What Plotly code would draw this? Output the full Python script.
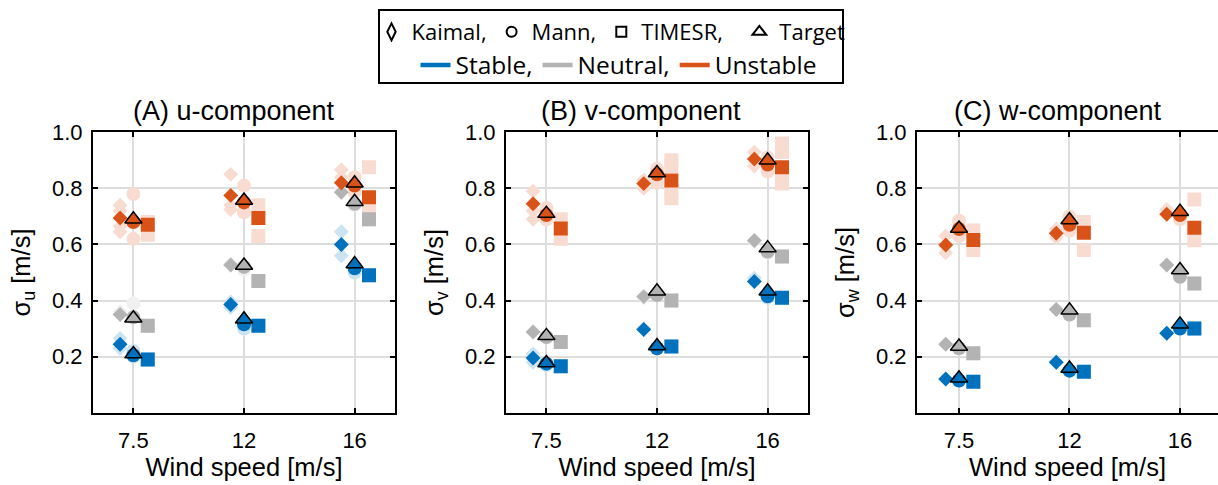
import plotly.graph_objects as go

# ---------------- data ----------------
WIND_LABELS = ["7.5", "12", "16"]
WIND_POS = [1, 2, 3]
STABILITIES = ["Stable", "Neutral", "Unstable"]
Y_TICKS = [0.2, 0.4, 0.6, 0.8, 1.0]
Y_TICK_TEXT = ["0.2", "0.4", "0.6", "0.8", "1.0"]

# mean std. dev. per stability, per wind speed [7.5, 12, 16]
u_kaimal = {"Stable": [0.244, 0.386, 0.600], "Neutral": [0.350, 0.527, 0.786], "Unstable": [0.694, 0.775, 0.820]}
u_mann = {"Stable": [0.205, 0.315, 0.515], "Neutral": [0.340, 0.520, 0.745], "Unstable": [0.680, 0.750, 0.810]}
u_timesr = {"Stable": [0.190, 0.310, 0.490], "Neutral": [0.310, 0.470, 0.690], "Unstable": [0.670, 0.694, 0.768]}
u_target = {"Stable": [0.209, 0.333, 0.530], "Neutral": [0.337, 0.525, 0.752], "Unstable": [0.690, 0.757, 0.818]}

v_kaimal = {"Stable": [0.195, 0.297, 0.468], "Neutral": [0.288, 0.414, 0.614], "Unstable": [0.745, 0.817, 0.905]}
v_mann = {"Stable": [0.175, 0.230, 0.415], "Neutral": [0.270, 0.420, 0.575], "Unstable": [0.705, 0.850, 0.885]}
v_timesr = {"Stable": [0.166, 0.236, 0.410], "Neutral": [0.252, 0.400, 0.557], "Unstable": [0.657, 0.828, 0.875]}
v_target = {"Stable": [0.177, 0.238, 0.433], "Neutral": [0.274, 0.433, 0.587], "Unstable": [0.710, 0.855, 0.900]}

w_kaimal = {"Stable": [0.120, 0.180, 0.283], "Neutral": [0.244, 0.368, 0.527], "Unstable": [0.598, 0.640, 0.708]}
w_mann = {"Stable": [0.115, 0.150, 0.300], "Neutral": [0.230, 0.350, 0.485], "Unstable": [0.655, 0.670, 0.705]}
w_timesr = {"Stable": [0.110, 0.146, 0.300], "Neutral": [0.212, 0.330, 0.461], "Unstable": [0.616, 0.642, 0.660]}
w_target = {"Stable": [0.123, 0.158, 0.315], "Neutral": [0.236, 0.365, 0.509], "Unstable": [0.657, 0.687, 0.717]}

# individual realisations (light markers), per wind speed
u_kaimal_runs = {"Stable": [[0.265, 0.23], [0.395, 0.375], [0.645, 0.56]], "Neutral": [[0.36], [0.53], [0.80]],
                 "Unstable": [[0.74, 0.72, 0.665, 0.645], [0.85, 0.74, 0.725], [0.866, 0.84]]}
u_mann_runs = {"Stable": [[0.20, 0.22], [0.30], [0.50]], "Neutral": [[0.39], [0.51], [0.74]],
               "Unstable": [[0.78, 0.62], [0.81, 0.715], [0.84, 0.786]]}
u_timesr_runs = {"Stable": [[0.19], [0.31], [0.49]], "Neutral": [[0.31], [0.47], [0.69]],
                 "Unstable": [[0.635, 0.68], [0.74, 0.63], [0.875, 0.73]]}

v_kaimal_runs = {"Stable": [[0.21, 0.18], [0.30], [0.48]], "Neutral": [[0.29], [0.41], [0.61]],
                 "Unstable": [[0.79, 0.72, 0.69], [0.80, 0.83], [0.93, 0.88]]}
v_mann_runs = {"Stable": [[0.17], [0.23], [0.41]], "Neutral": [[0.27], [0.42], [0.57]],
               "Unstable": [[0.73, 0.69], [0.87, 0.82], [0.86, 0.91]]}
v_timesr_runs = {"Stable": [[0.166], [0.236], [0.41]], "Neutral": [[0.252], [0.40], [0.557]],
                 "Unstable": [[0.69, 0.62], [0.90, 0.88, 0.79, 0.765], [0.96, 0.93, 0.84, 0.817]]}

w_kaimal_runs = {"Stable": [[0.12], [0.18], [0.283]], "Neutral": [[0.244], [0.368], [0.527]],
                 "Unstable": [[0.63, 0.57], [0.655, 0.625], [0.725]]}
w_mann_runs = {"Stable": [[0.115], [0.15], [0.30]], "Neutral": [[0.23], [0.35], [0.485]],
               "Unstable": [[0.685, 0.63], [0.70, 0.65], [0.69]]}
w_timesr_runs = {"Stable": [[0.11], [0.146], [0.30]], "Neutral": [[0.212], [0.33], [0.461]],
                 "Unstable": [[0.65, 0.58], [0.68, 0.58], [0.76, 0.615]]}

PANEL_TITLES = ["(A) u-component", "(B) v-component", "(C) w-component"]
Y_TITLES = ["σ<sub>u</sub> [m/s]", "σ<sub>v</sub> [m/s]", "σ<sub>w</sub> [m/s]"]
X_TITLE = "Wind speed [m/s]"
MODEL_NAMES = ["Kaimal", "Mann", "TIMESR"]

# ---------------- style ----------------
W, H = 1218, 485
DARK = {"Stable": "#0072BD", "Neutral": "#B3B3B3", "Unstable": "#D95319"}
LIGHT = {"Stable": "#CCE3F2", "Neutral": "#F0F0F0", "Unstable": "#F8DCD1"}
OFFSET = {"Kaimal": -0.12, "Mann": 0.0, "TIMESR": 0.13}
SYMBOL = {"Kaimal": "diamond", "Mann": "circle", "TIMESR": "square"}
SIZE = {"Kaimal": 11.5, "Mann": 14, "TIMESR": 14}
FONT = "Liberation Sans"
LEG_FONT = "Open Sans"

panels = [
    dict(mean={"Kaimal": u_kaimal, "Mann": u_mann, "TIMESR": u_timesr}, target=u_target,
         runs={"Kaimal": u_kaimal_runs, "Mann": u_mann_runs, "TIMESR": u_timesr_runs}),
    dict(mean={"Kaimal": v_kaimal, "Mann": v_mann, "TIMESR": v_timesr}, target=v_target,
         runs={"Kaimal": v_kaimal_runs, "Mann": v_mann_runs, "TIMESR": v_timesr_runs}),
    dict(mean={"Kaimal": w_kaimal, "Mann": w_mann, "TIMESR": w_timesr}, target=w_target,
         runs={"Kaimal": w_kaimal_runs, "Mann": w_mann_runs, "TIMESR": w_timesr_runs}),
]

x_domains = [(93 / W, 395 / W), (506 / W, 808 / W), (917 / W, 1.0)]
x_ranges = [(0.635, 3.365), (0.635, 3.365), (0.62, 3.344)]
y_domain = ((H - 412.7) / H, (H - 132.3) / H)
title_x = [234, 641, 1058]

fig = go.Figure()

for i, p in enumerate(panels):
    sfx = "" if i == 0 else str(i + 1)
    xa, ya = "x" + sfx, "y" + sfx
    # light markers (individual runs)
    for m in MODEL_NAMES:
        for s in STABILITIES:
            xs, ys = [], []
            for k, vals in enumerate(p["runs"][m][s]):
                for v in vals:
                    xs.append(WIND_POS[k] + OFFSET[m])
                    ys.append(v)
            fig.add_trace(go.Scatter(x=xs, y=ys, mode="markers", xaxis=xa, yaxis=ya, showlegend=False,
                                     marker=dict(symbol=SYMBOL[m], size=SIZE[m], color=LIGHT[s],
                                                 line=dict(width=0)), hoverinfo="skip"))
    # dark markers (means)
    for m in MODEL_NAMES:
        for s in STABILITIES:
            fig.add_trace(go.Scatter(x=[xp + OFFSET[m] for xp in WIND_POS], y=p["mean"][m][s], mode="markers",
                                     xaxis=xa, yaxis=ya, showlegend=False,
                                     marker=dict(symbol=SYMBOL[m], size=SIZE[m], color=DARK[s], line=dict(width=0))))
    # target
    for s in STABILITIES:
        fig.add_trace(go.Scatter(x=WIND_POS, y=p["target"][s], mode="markers", xaxis=xa, yaxis=ya, showlegend=False,
                                 marker=dict(symbol="triangle-up", size=15, color=DARK[s],
                                             line=dict(width=1.5, color="black"))))

    axis_common = dict(showline=True, linecolor="black", linewidth=2, ticks="inside", ticklen=5, tickwidth=1.5,
                       tickcolor="black", showgrid=True, gridcolor="#DDDDDD", gridwidth=1.5, zeroline=False,
                       tickfont=dict(family=FONT, size=22, color="black"))
    fig.update_layout({
        "xaxis" + sfx: dict(axis_common, domain=x_domains[i], range=x_ranges[i], anchor=ya,
                            tickvals=WIND_POS, ticktext=WIND_LABELS, mirror="ticks", ticklabelstandoff=7,
                            title=dict(text=X_TITLE, font=dict(family=FONT, size=25.5, color="black"), standoff=4)),
        "yaxis" + sfx: dict(axis_common, domain=y_domain, range=[0, 1], anchor=xa,
                            tickvals=Y_TICKS, ticktext=Y_TICK_TEXT, mirror=("ticks" if i < 2 else False),
                            ticklabelstandoff=4,
                            title=dict(text=Y_TITLES[i], font=dict(family=FONT, size=25.5, color="black"),
                                       standoff=14)),
    })
    fig.add_annotation(text=PANEL_TITLES[i], x=title_x[i] / W, y=1 - 111 / H, xref="paper", yref="paper",
                       xanchor="center", yanchor="middle", showarrow=False,
                       font=dict(family=FONT, size=27, color="black"))

# legend entries (markers row, stability row)
leg_markers = [("Kaimal,", "diamond-tall-open", 12), ("Mann,", "circle-open", 10),
               ("TIMESR,\u00a0\u00a0", "square-open", 10), ("Target", "triangle-up-open", 12)]
for name, sym, sz in leg_markers:
    fig.add_trace(go.Scatter(x=[None], y=[None], mode="markers", name=name, legend="legend",
                             marker=dict(symbol=sym, size=sz, color="black", line=dict(width=2, color="black"))))
for s, name in zip(STABILITIES, ["Stable,", "Neutral,", "Unstable"]):
    fig.add_trace(go.Scatter(x=[None], y=[None], mode="lines", name=name, legend="legend2",
                             line=dict(color=DARK[s], width=4.5)))

leg_common = dict(orientation="h", xanchor="center", yanchor="middle", bgcolor="rgba(0,0,0,0)",
                  borderwidth=0, itemclick=False, itemdoubleclick=False, tracegroupgap=0)
fig.update_layout(
    legend=dict(leg_common, x=611 / W, y=1 - 32 / H, font=dict(family=LEG_FONT, size=22, color="black")),
    legend2=dict(leg_common, x=619 / W, y=1 - 65 / H, font=dict(family=LEG_FONT, size=24.5, color="black")),
)
fig.add_shape(type="rect", xref="paper", yref="paper", x0=379 / W, x1=843 / W, y0=1 - 83 / H, y1=1 - 10 / H,
              line=dict(color="black", width=2), fillcolor="rgba(0,0,0,0)", layer="above")

fig.update_layout(width=W, height=H, margin=dict(l=0, r=0, t=0, b=0, autoexpand=False), paper_bgcolor="white",
                  plot_bgcolor="white", showlegend=True)

fig.write_html("out.html")
